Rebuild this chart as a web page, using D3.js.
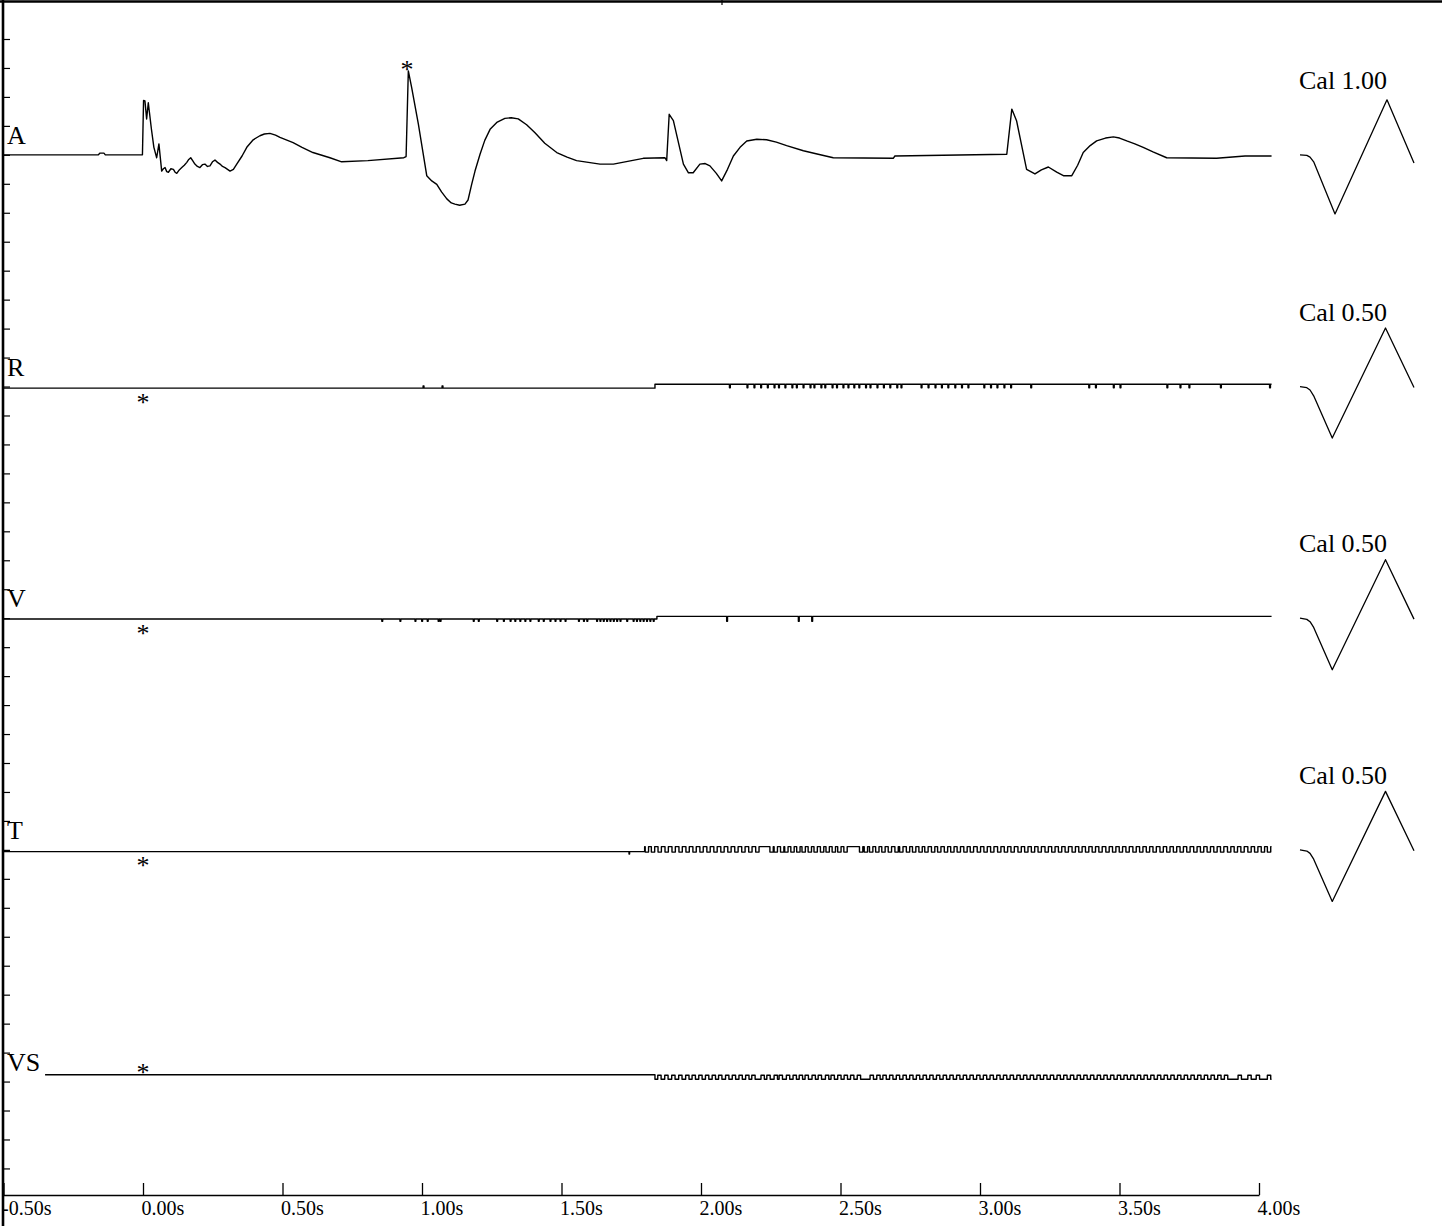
<!DOCTYPE html>
<html>
<head>
<meta charset="utf-8">
<script src="https://cdn.jsdelivr.net/npm/d3@7"></script>
<style>
body { margin: 0; background: #fff; }
svg { display: block; }
text { font-family: "Liberation Serif", "Times New Roman", serif; fill: #000; }
</style>
</head>
<body>
<div id="container"></div>
<script>
// channels and calibration
var channels = ["A", "R", "V", "T", "VS"];
var calValues = [1.00, 0.50, 0.50, 0.50, 0.50];
var calLabels = ["Cal 1.00", "Cal 0.50", "Cal 0.50", "Cal 0.50"];
var timeTicks = [-0.5, 0, 0.5, 1, 1.5, 2, 2.5, 3, 3.5, 4];
var tStart = -0.5, tEnd = 4.045;

// A channel [s, mV]
var traceA = [[-0.500, 0.00], [-0.160, 0.00], [-0.154, 0.03], [-0.140, 0.03], [-0.135, 0.00],
  [-0.002, 0.00], [0.002, 0.94], [0.007, 0.93], [0.013, 0.62], [0.019, 0.90], [0.030, 0.45],
  [0.039, 0.13], [0.049, -0.05], [0.057, 0.19], [0.067, -0.28], [0.073, -0.24], [0.079, -0.22],
  [0.085, -0.29], [0.091, -0.30], [0.100, -0.24], [0.109, -0.25], [0.115, -0.30], [0.121, -0.32],
  [0.130, -0.26], [0.139, -0.22], [0.148, -0.18], [0.157, -0.13], [0.164, -0.08], [0.171, -0.05],
  [0.178, -0.10], [0.186, -0.16], [0.195, -0.20], [0.204, -0.22], [0.213, -0.17], [0.222, -0.16],
  [0.231, -0.20], [0.240, -0.19], [0.249, -0.12], [0.258, -0.09], [0.267, -0.13], [0.276, -0.16],
  [0.285, -0.20], [0.294, -0.22], [0.303, -0.25], [0.312, -0.28], [0.324, -0.25], [0.336, -0.16],
  [0.355, -0.02], [0.372, 0.13], [0.395, 0.26], [0.419, 0.33], [0.435, 0.36], [0.455, 0.37],
  [0.475, 0.34], [0.491, 0.30], [0.538, 0.21], [0.570, 0.13], [0.609, 0.04], [0.670, -0.05],
  [0.712, -0.12], [0.806, -0.10], [0.935, -0.05], [0.943, -0.03], [0.951, 1.45], [0.963, 1.16],
  [0.987, 0.53], [1.017, -0.36], [1.035, -0.45], [1.053, -0.51], [1.070, -0.64], [1.089, -0.76],
  [1.105, -0.83], [1.118, -0.85], [1.135, -0.87], [1.154, -0.85], [1.165, -0.78], [1.178, -0.51],
  [1.190, -0.28], [1.208, 0.01], [1.225, 0.25], [1.244, 0.44], [1.268, 0.56], [1.297, 0.63],
  [1.320, 0.64], [1.345, 0.62], [1.375, 0.52], [1.405, 0.38], [1.440, 0.20], [1.483, 0.04],
  [1.520, -0.04], [1.554, -0.10], [1.638, -0.16], [1.686, -0.16], [1.793, -0.06], [1.871, -0.05],
  [1.877, -0.10], [1.886, 0.70], [1.901, 0.59], [1.937, -0.16], [1.955, -0.31], [1.972, -0.31],
  [1.996, -0.16], [2.015, -0.15], [2.032, -0.19], [2.055, -0.32], [2.074, -0.45], [2.095, -0.25],
  [2.116, -0.02], [2.140, 0.13], [2.164, 0.24], [2.200, 0.27], [2.235, 0.26], [2.270, 0.22],
  [2.307, 0.16], [2.367, 0.07], [2.420, 0.01], [2.474, -0.05], [2.689, -0.06], [2.695, -0.02],
  [3.096, 0.01], [3.114, 0.79], [3.131, 0.59], [3.167, -0.25], [3.197, -0.33], [3.220, -0.26],
  [3.245, -0.21], [3.275, -0.30], [3.299, -0.36], [3.329, -0.36], [3.350, -0.18], [3.370, 0.04],
  [3.395, 0.16], [3.418, 0.24], [3.450, 0.29], [3.478, 0.31], [3.500, 0.29], [3.526, 0.24],
  [3.555, 0.19], [3.585, 0.13], [3.620, 0.05], [3.669, -0.05], [3.848, -0.06], [3.950, -0.02],
  [4.045, -0.02]];

// R channel: level changes [s, mV] and spike times
var levelsR = [[-0.5, -0.014], [1.835, 0.019]];
var spikesRUp = [1.004, 1.072];
var spikesR = [2.102, 2.165, 2.190, 2.214, 2.238, 2.262, 2.278, 2.301, 2.326, 2.342, 2.366, 2.391,
  2.405, 2.430, 2.444, 2.470, 2.486, 2.509, 2.527, 2.548, 2.566, 2.590, 2.606, 2.631, 2.654, 2.677,
  2.702, 2.717, 2.789, 2.814, 2.839, 2.862, 2.885, 2.910, 2.934, 2.957, 3.014, 3.038, 3.061, 3.086,
  3.110, 3.182, 3.390, 3.414, 3.478, 3.502, 3.670, 3.717, 3.749, 3.862, 4.038];

// V channel
var levelsV = [[-0.5, -0.007], [1.842, 0.016]];
var spikesV = [0.856, 0.921, 0.975, 0.999, 1.019, 1.058, 1.065, 1.184, 1.202, 1.268, 1.292, 1.316,
  1.333, 1.351, 1.369, 1.387, 1.417, 1.435, 1.459, 1.477, 1.495, 1.513, 1.561, 1.579, 1.591, 1.626,
  1.638, 1.650, 1.662, 1.674, 1.686, 1.698, 1.710, 1.734, 1.757, 1.769, 1.781, 1.793, 1.805, 1.817,
  1.829, 2.092, 2.349, 2.397];

// T channel
var levelsT = [[-0.5, -0.015], [1.798, 0.028]];
var spikesTPre = [1.742];
var troughsT = [1.800, 1.822, 1.846, 1.871, 1.896, 1.921, 1.946, 1.971, 1.996, 2.021, 2.046, 2.071,
  2.096, 2.121, 2.146, 2.171, 2.196, 2.247, 2.262, 2.285, 2.300, 2.322, 2.343, 2.362, 2.384, 2.405,
  2.428, 2.448, 2.470, 2.490, 2.512, 2.568, 2.585, 2.604, 2.626, 2.648, 2.671, 2.695, 2.712, 2.736,
  2.758, 2.781, 2.802, 2.826, 2.848, 2.872, 2.895, 2.918, 2.942, 2.965, 2.990, 3.014, 3.038, 3.063,
  3.087, 3.111, 3.136, 3.160, 3.184, 3.208, 3.233, 3.257, 3.281, 3.305, 3.330, 3.354, 3.378, 3.402,
  3.426, 3.451, 3.475, 3.499, 3.523, 3.548, 3.572, 3.596, 3.620, 3.645, 3.669, 3.693, 3.717, 3.741,
  3.766, 3.790, 3.814, 3.838, 3.862, 3.887, 3.911, 3.935, 3.960, 3.984, 4.008, 4.030];

// VS channel
var levelsVS = [[-0.351, 0.059], [1.835, 0.020]];
var bumpsVS = [1.845, 1.870, 1.895, 1.920, 1.945, 1.968, 1.992, 2.016, 2.040, 2.063, 2.088, 2.112,
  2.136, 2.160, 2.182, 2.215, 2.236, 2.262, 2.280, 2.306, 2.330, 2.352, 2.373, 2.398, 2.420, 2.446,
  2.466, 2.490, 2.513, 2.536, 2.560, 2.606, 2.630, 2.652, 2.676, 2.700, 2.724, 2.748, 2.772, 2.796,
  2.820, 2.844, 2.868, 2.892, 2.916, 2.940, 2.964, 2.988, 3.012, 3.036, 3.060, 3.084, 3.108, 3.132,
  3.156, 3.180, 3.204, 3.228, 3.252, 3.276, 3.300, 3.324, 3.348, 3.372, 3.396, 3.420, 3.444, 3.468,
  3.492, 3.516, 3.540, 3.564, 3.588, 3.612, 3.636, 3.660, 3.684, 3.708, 3.732, 3.756, 3.780, 3.804,
  3.828, 3.852, 3.876, 3.925, 3.960, 3.990, 4.030];

// calibration pulses [fraction of pulse, mV]
var calA = [[0, 0], [0.06, -0.01], [0.088, -0.04], [0.12, -0.12], [0.307, -1.02], [0.763, 0.95], [1, -0.14]];
var calHalf = [[0, 0], [0.06, -0.01], [0.088, -0.03], [0.12, -0.08], [0.283, -0.445], [0.75, 0.505], [1, -0.008]];

// event markers
var markTimes = [0.946, 0, 0, 0, 0];

var W = 1442, H = 1226;

var svg = d3.select("div#container")
    .append("svg")
    .attr("width", W)
    .attr("height", H)
    .style("background-color", "#fff");

var x = d3.scaleLinear().domain([-0.5, 4.0]).range([3.5, 1259]);
var yDiv = d3.scaleLinear().domain([0, 40]).range([39, 1197.4]);
var calX = d3.scaleLinear().domain([0, 1]).range([1300, 1414]);

var yScales = channels.map((c, i) => {
  var mid = 4 + 8 * i;
  return d3.scaleLinear().domain([-calValues[i], calValues[i]]).range([yDiv(mid + 2), yDiv(mid - 2)]);
});

function stepTrace(levels, groups, end) {
  var levelAt = t => {
    var v = levels[0][1];
    levels.forEach(l => { if (l[0] <= t) v = l[1]; });
    return v;
  };
  var pts = levels.slice();
  groups.forEach(g => g.times.forEach(t => {
    pts.push([t, g.value]);
    pts.push([t + g.width, levelAt(t)]);
  }));
  pts.sort((a, b) => a[0] - b[0]);
  pts.push([end, levelAt(end)]);
  return pts;
}

var traces = [
  traceA,
  stepTrace(levelsR, [{times: spikesRUp, value: 0.006, width: 0.003}, {times: spikesR, value: -0.011, width: 0.003}], tEnd),
  stepTrace(levelsV, [{times: spikesV, value: -0.026, width: 0.003}], tEnd),
  stepTrace(levelsT, [{times: spikesTPre, value: -0.035, width: 0.002}, {times: troughsT, value: -0.019, width: 0.012}], tEnd),
  stepTrace(levelsVS, [{times: bumpsVS, value: 0.054, width: 0.012}], tEnd)
];

// frame
svg.append("line")
    .attr("x1", 0).attr("x2", W).attr("y1", 1.5).attr("y2", 1.5)
    .attr("stroke", "#000").attr("stroke-width", 2.5);
svg.append("line")
    .attr("x1", 722).attr("x2", 722).attr("y1", 0).attr("y2", 5)
    .attr("stroke", "#000").attr("stroke-width", 1.2);
svg.append("line")
    .attr("x1", 3).attr("x2", 3).attr("y1", 0).attr("y2", H)
    .attr("stroke", "#000").attr("stroke-width", 2.6);

svg.append("g")
    .attr("transform", "translate(3,0)")
    .call(d3.axisRight(yDiv).tickValues(d3.range(0, 40)).tickSize(7).tickFormat(""))
    .call(g => g.select(".domain").remove())
    .call(g => g.selectAll(".tick line").attr("stroke", "#000").attr("stroke-width", 1.2));

// time axis
var xAxis = svg.append("g")
    .attr("transform", "translate(0,1195)")
    .call(d3.axisTop(x).tickValues(timeTicks).tickSize(12).tickSizeOuter(0).tickFormat(""));
xAxis.select(".domain").attr("stroke", "#000").attr("stroke-width", 1.6);
xAxis.selectAll(".tick line").attr("stroke", "#000").attr("stroke-width", 1.3);

svg.append("g")
    .selectAll("text")
    .data(timeTicks)
    .enter()
    .append("text")
    .attr("x", d => x(d) - 1.5)
    .attr("y", 1215)
    .attr("font-size", 20)
    .text(d => d.toFixed(2) + "s");

// traces
channels.forEach((c, i) => {
  var y = yScales[i];
  var line = d3.line()
      .x(d => x(d[0]))
      .y(d => y(d[1]))
      .curve(i === 0 ? d3.curveLinear : d3.curveStepAfter);

  svg.append("path")
      .datum(traces[i])
      .attr("fill", "none")
      .attr("stroke", "#000")
      .attr("stroke-width", 1.4)
      .attr("stroke-linejoin", "round")
      .attr("d", line);

  svg.append("text")
      .attr("x", 7)
      .attr("y", y(0) - 11)
      .attr("font-size", 26)
      .text(c);

  // asterisk marker
  var my;
  if (i === 0) my = y(1.45) - 5;
  else if (i === 4) my = y(0) - 13;
  else my = y(0) + 12;
  svg.append("text")
      .attr("x", x(markTimes[i]))
      .attr("y", my + 12)
      .attr("text-anchor", "middle")
      .attr("font-size", 26)
      .text("*");

  if (i < calLabels.length) {
    var calLine = d3.line()
        .x(d => calX(d[0]))
        .y(d => y(d[1]));
    svg.append("path")
        .datum(i === 0 ? calA : calHalf)
        .attr("fill", "none")
        .attr("stroke", "#000")
        .attr("stroke-width", 1.3)
        .attr("stroke-linejoin", "round")
        .attr("d", calLine);
    svg.append("text")
        .attr("x", 1299)
        .attr("y", y(0) - 66)
        .attr("font-size", 26)
        .text(calLabels[i]);
  }
});
</script>
</body>
</html>
